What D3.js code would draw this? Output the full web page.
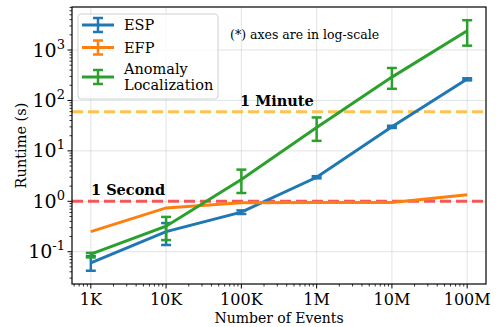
<!DOCTYPE html>
<html>
<head>
<meta charset="utf-8">
<script src="https://cdn.jsdelivr.net/npm/d3@7"></script>
<style>
  body { margin: 0; background: #fff; }
  svg text { font-family: "DejaVu Serif", "Liberation Serif", "DejaVu Sans", serif; }
</style>
</head>
<body>
<div id="viz"></div>
<script>
var width = 501, height = 327;
var left = 72, right = 486, top_ = 7, bottom = 284;

// data
var events = [1e3, 1e4, 1e5, 1e6, 1e7, 1e8];
var xLabels = ["1K", "10K", "100K", "1M", "10M", "100M"];
var espMean = [0.06, 0.25, 0.61, 3.0, 30, 265];
var espLow  = [0.042, 0.136, 0.56, 2.85, 28.5, 250];
var espHigh = [0.082, 0.37, 0.66, 3.15, 31.5, 275];
var efpMean = [0.25, 0.74, 0.94, 0.95, 0.95, 1.35];
var anoMean = [0.09, 0.32, 2.7, 29, 290, 2400];
var anoLow  = [0.077, 0.17, 1.46, 15.8, 170, 1220];
var anoHigh = [0.095, 0.49, 4.25, 46, 440, 3900];
var yTicks = [-1, 0, 1, 2, 3];

var series = [
  {name: "ESP", color: "#1f77b4", mean: espMean, low: espLow, high: espHigh},
  {name: "EFP", color: "#ff7f0e", mean: efpMean, low: null, high: null},
  {name: "Anomaly Localization", color: "#2ca02c", mean: anoMean, low: anoLow, high: anoHigh}
];

var x = d3.scaleLog().domain([Math.pow(10, 2.75), Math.pow(10, 8.25)]).range([left, right]);
var y = d3.scaleLog().domain([Math.pow(10, -1.64), Math.pow(10, 3.853)]).range([bottom, top_]);

var svg = d3.select("#viz").append("svg")
  .attr("width", width).attr("height", height);

// grid
svg.append("g").selectAll("line").data(events).enter().append("line")
  .attr("x1", function(d){ return x(d); }).attr("x2", function(d){ return x(d); })
  .attr("y1", top_).attr("y2", bottom)
  .attr("stroke", "#b0b0b0").attr("stroke-opacity", 0.35).attr("stroke-width", 1);
svg.append("g").selectAll("line").data(yTicks).enter().append("line")
  .attr("x1", left).attr("x2", right)
  .attr("y1", function(d){ return y(Math.pow(10, d)); }).attr("y2", function(d){ return y(Math.pow(10, d)); })
  .attr("stroke", "#b0b0b0").attr("stroke-opacity", 0.35).attr("stroke-width", 1);

// reference lines
var refs = [
  {v: 60, color: "#ffb732", label: "1 Minute", lx: 240, ly: 106},
  {v: 1, color: "#f53c3c", label: "1 Second", lx: 91, ly: 195}
];
refs.forEach(function(r){
  svg.append("line")
    .attr("x1", left).attr("x2", right)
    .attr("y1", y(r.v)).attr("y2", y(r.v))
    .attr("stroke", r.color).attr("stroke-opacity", 0.85)
    .attr("stroke-width", 3).attr("stroke-dasharray", "11,5");
  svg.append("text").attr("x", r.lx).attr("y", r.ly)
    .attr("font-size", 14.5).attr("font-weight", "bold").text(r.label);
});

// series
var line = d3.line()
  .x(function(d){ return x(d[0]); })
  .y(function(d){ return y(d[1]); });

series.forEach(function(s){
  var pts = events.map(function(e, i){ return [e, s.mean[i]]; });
  svg.append("path").attr("d", line(pts))
    .attr("fill", "none").attr("stroke", s.color).attr("stroke-width", 3);
  if (s.low) {
    var g = svg.append("g").attr("stroke", s.color).attr("stroke-width", 2.5);
    events.forEach(function(e, i){
      var cx = x(e);
      g.append("line").attr("x1", cx).attr("x2", cx)
        .attr("y1", y(s.low[i])).attr("y2", y(s.high[i]));
      [s.low[i], s.high[i]].forEach(function(v){
        g.append("line").attr("x1", cx - 5).attr("x2", cx + 5)
          .attr("y1", y(v)).attr("y2", y(v));
      });
    });
  }
});

// frame
svg.append("rect").attr("x", left).attr("y", top_)
  .attr("width", right - left).attr("height", bottom - top_)
  .attr("fill", "none").attr("stroke", "#000").attr("stroke-width", 1.2);

// x axis ticks
var xMinor = [];
for (var p = 2; p <= 8; p++) for (var k = 2; k < 10; k++) {
  var v = k * Math.pow(10, p);
  if (v >= x.domain()[0] && v <= x.domain()[1]) xMinor.push(v);
}
svg.append("g").selectAll("line").data(xMinor).enter().append("line")
  .attr("x1", function(d){ return x(d); }).attr("x2", function(d){ return x(d); })
  .attr("y1", bottom).attr("y2", bottom + 2.5).attr("stroke", "#000").attr("stroke-width", 0.8);
svg.append("g").selectAll("line").data(events).enter().append("line")
  .attr("x1", function(d){ return x(d); }).attr("x2", function(d){ return x(d); })
  .attr("y1", bottom).attr("y2", bottom + 4.5).attr("stroke", "#000").attr("stroke-width", 1);
svg.append("g").selectAll("text").data(events).enter().append("text")
  .attr("x", function(d){ return x(d); }).attr("y", 305)
  .attr("text-anchor", "middle").attr("font-size", 16)
  .text(function(d, i){ return xLabels[i]; });

// y axis ticks
var yMinor = [];
for (var q = -2; q <= 3; q++) for (var m = 2; m < 10; m++) {
  var w = m * Math.pow(10, q);
  if (w >= y.domain()[0] && w <= y.domain()[1]) yMinor.push(w);
}
svg.append("g").selectAll("line").data(yMinor).enter().append("line")
  .attr("x1", left - 2.5).attr("x2", left)
  .attr("y1", function(d){ return y(d); }).attr("y2", function(d){ return y(d); })
  .attr("stroke", "#000").attr("stroke-width", 0.8);
svg.append("g").selectAll("line").data(yTicks).enter().append("line")
  .attr("x1", left - 4.5).attr("x2", left)
  .attr("y1", function(d){ return y(Math.pow(10, d)); }).attr("y2", function(d){ return y(Math.pow(10, d)); })
  .attr("stroke", "#000").attr("stroke-width", 1);
var yl = svg.append("g").selectAll("text").data(yTicks).enter().append("text")
  .attr("x", left - 7).attr("y", function(d){ return y(Math.pow(10, d)) + 6.5; })
  .attr("text-anchor", "end").attr("font-size", 19);
yl.append("tspan").text("10");
yl.append("tspan").attr("font-size", 13).attr("dy", -8).text(function(d){ return d < 0 ? "-" + (-d) : d; });

// axis labels
svg.append("text").attr("x", (left + right) / 2).attr("y", 323)
  .attr("text-anchor", "middle").attr("font-size", 14).text("Number of Events");
svg.append("text").attr("transform", "translate(26," + ((top_ + bottom) / 2) + ") rotate(-90)")
  .attr("text-anchor", "middle").attr("font-size", 14.5).text("Runtime (s)");

// note
svg.append("text").attr("x", 230).attr("y", 39).attr("font-size", 12.5)
  .text("(*) axes are in log-scale");

// legend
var lg = svg.append("g");
lg.append("rect").attr("x", 78).attr("y", 14).attr("width", 140).attr("height", 85)
  .attr("rx", 3).attr("fill", "#fff").attr("fill-opacity", 0.8)
  .attr("stroke", "#d0d0d0").attr("stroke-width", 1);
var items = [
  {s: series[0], y: 25, lines: ["ESP"]},
  {s: series[1], y: 47.5, lines: ["EFP"]},
  {s: series[2], y: 77, lines: ["Anomaly", "Localization"]}
];
items.forEach(function(it){
  lg.append("line").attr("x1", 82).attr("x2", 114).attr("y1", it.y).attr("y2", it.y)
    .attr("stroke", it.s.color).attr("stroke-width", 3);
  lg.append("line").attr("x1", 98).attr("x2", 98).attr("y1", it.y - 7).attr("y2", it.y + 7)
    .attr("stroke", it.s.color).attr("stroke-width", 2.5);
  [it.y - 7, it.y + 7].forEach(function(cy){
    lg.append("line").attr("x1", 93).attr("x2", 103).attr("y1", cy).attr("y2", cy)
      .attr("stroke", it.s.color).attr("stroke-width", 2.5);
  });
  var t = lg.append("text").attr("x", 124).attr("font-size", 14.5);
  if (it.lines.length == 1) {
    t.attr("y", it.y + 5).text(it.lines[0]);
  } else {
    t.attr("y", it.y - 3);
    t.append("tspan").attr("x", 124).text(it.lines[0]);
    t.append("tspan").attr("x", 124).attr("dy", 16).text(it.lines[1]);
  }
});
</script>
</body>
</html>
